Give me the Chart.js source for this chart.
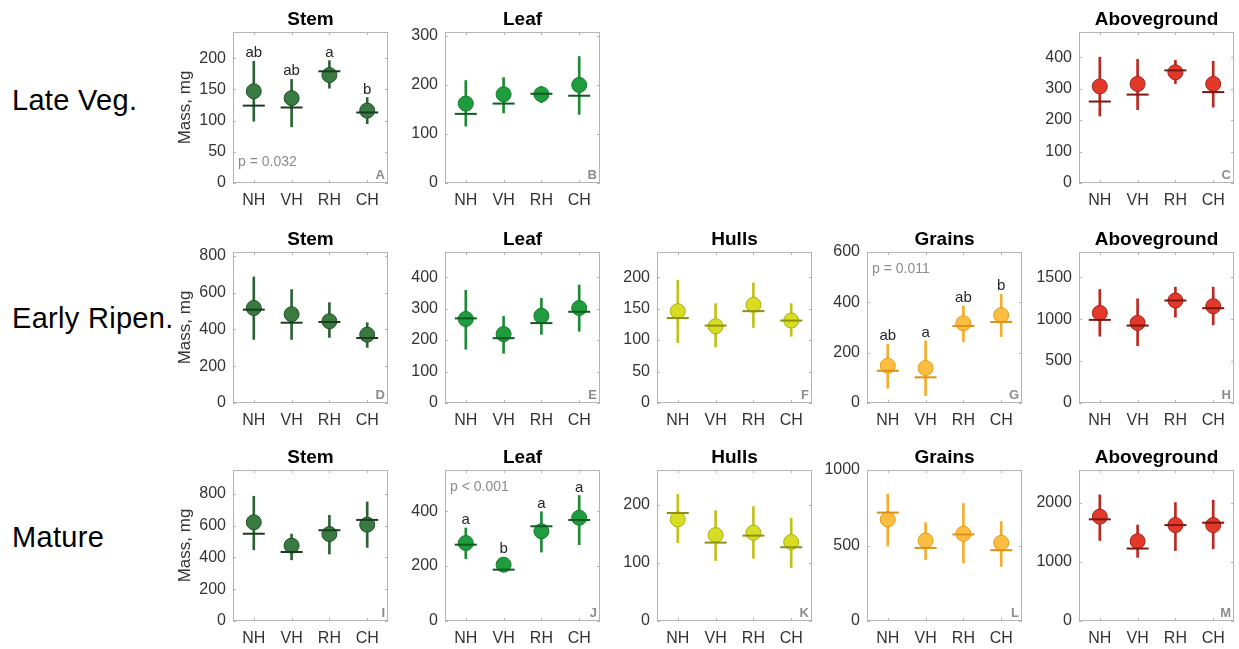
<!DOCTYPE html>
<html>
<head>
<meta charset="utf-8">
<script src="https://cdn.jsdelivr.net/npm/chart.js@4.4.1/dist/chart.umd.min.js"></script>
<style>
    html, body { margin: 0; padding: 0; background: #fff; }
    #fig { position: relative; width: 1239px; height: 649px; overflow: hidden; font-family: "Liberation Sans", Arial, sans-serif; }
    .row-label { position: absolute; left: 12px; font-size: 29px; color: #000; transform: translateY(-50%); white-space: nowrap; letter-spacing: 0.3px; }
    .panel { position: absolute; }
</style>
</head>
<body>
<div id="fig">
    <div class="row-label" style="top:100px">Late Veg.</div>
    <div class="row-label" style="top:318px">Early Ripen.</div>
    <div class="row-label" style="top:537px">Mature</div>
</div>
<script>
/* ==========================================================================
   DATA (mass, mg) - mean, median, whisker low / high per harvest group
   ========================================================================== */
const groups = ['NH', 'VH', 'RH', 'CH'];

// Late Veg.
const lvStemMean = [147, 136, 173, 116];
const lvStemMedian = [124, 121, 179, 113];
const lvStemLow = [99, 90, 152, 95];
const lvStemHigh = [195, 166, 196, 137];
const lvStemTicks = [0, 50, 100, 150, 200];
const lvStemLetters = ['ab', 'ab', 'a', 'b'];

const lvLeafMean = [162, 181, 181, 200];
const lvLeafMedian = [141, 162, 182, 178];
const lvLeafLow = [116, 143, 164, 140];
const lvLeafHigh = [209, 215, 197, 258];
const lvLeafTicks = [0, 100, 200, 300];

const lvAboveMean = [307, 315, 352, 315];
const lvAboveMedian = [259, 281, 358, 289];
const lvAboveLow = [213, 233, 316, 241];
const lvAboveHigh = [400, 393, 390, 387];
const lvAboveTicks = [0, 100, 200, 300, 400];

// Early Ripen.
const erStemMean = [516, 482, 444, 371];
const erStemMedian = [507, 436, 440, 353];
const erStemLow = [345, 345, 356, 302];
const erStemHigh = [685, 616, 545, 436];
const erStemTicks = [0, 200, 400, 600, 800];

const erLeafMean = [267, 219, 277, 302];
const erLeafMedian = [269, 206, 254, 290];
const erLeafLow = [171, 158, 218, 228];
const erLeafHigh = [358, 275, 333, 375];
const erLeafTicks = [0, 100, 200, 300, 400];

const erHullsMean = [146, 122, 156, 131];
const erHullsMedian = [135, 123, 146, 131];
const erHullsLow = [96, 89, 120, 106];
const erHullsHigh = [195, 158, 191, 158];
const erHullsTicks = [0, 50, 100, 150, 200];

const erGrainsMean = [148, 139, 317, 349];
const erGrainsMedian = [128, 102, 306, 322];
const erGrainsLow = [59, 29, 243, 264];
const erGrainsHigh = [234, 247, 386, 432];
const erGrainsTicks = [0, 200, 400, 600];
const erGrainsLetters = ['ab', 'a', 'ab', 'b'];

const erAboveMean = [1074, 955, 1222, 1154];
const erAboveMedian = [991, 923, 1222, 1130];
const erAboveLow = [796, 684, 1023, 931];
const erAboveHigh = [1353, 1242, 1381, 1381];
const erAboveTicks = [0, 500, 1000, 1500];

// Mature
const mStemMean = [621, 474, 547, 606];
const mStemMedian = [549, 434, 571, 636];
const mStemLow = [448, 385, 421, 463];
const mStemHigh = [785, 547, 665, 749];
const mStemTicks = [0, 200, 400, 600, 800];

const mLeafMean = [284, 205, 327, 376];
const mLeafMedian = [278, 187, 345, 368];
const mLeafLow = [227, 180, 251, 278];
const mLeafHigh = [339, 223, 398, 457];
const mLeafTicks = [0, 200, 400];
const mLeafLetters = ['a', 'b', 'a', 'a'];

const mHullsMean = [175, 148, 152, 136];
const mHullsMedian = [186, 135, 147, 127];
const mHullsLow = [135, 104, 108, 92];
const mHullsHigh = [218, 190, 197, 177];
const mHullsTicks = [0, 100, 200];

const mGrainsMean = [673, 533, 578, 518];
const mGrainsMedian = [718, 484, 573, 469];
const mGrainsLow = [496, 407, 384, 362];
const mGrainsHigh = [840, 651, 778, 658];
const mGrainsTicks = [0, 500, 1000];

const mAboveMean = [1762, 1348, 1620, 1620];
const mAboveMedian = [1717, 1224, 1620, 1660];
const mAboveLow = [1360, 1076, 1190, 1218];
const mAboveHigh = [2130, 1620, 2000, 2040];
const mAboveTicks = [0, 1000, 2000];

/* ==========================================================================
   STYLE
   ========================================================================== */
const palette = {
    stem:   { fill: '#397a41', edge: '#21502a', line: '#2d6234', median: '#1c3a20' },
    leaf:   { fill: '#1f9c3d', edge: '#127a2b', line: '#1e8a36', median: '#0e5a20' },
    hulls:  { fill: '#d6dd22', edge: '#a9af14', line: '#bdc31b', median: '#8c910f' },
    grains: { fill: '#fcbd40', edge: '#e39a1b', line: '#f3ad2c', median: '#dd9016' },
    above:  { fill: '#e2392b', edge: '#a3241a', line: '#b9291f', median: '#7c170f' }
};

const colLeft = [233, 445, 657, 867, 1079];
const rowTop = [32, 252, 470];
const boxW = 155;
const boxH = 151;
const fontFam = '"Liberation Sans", Arial, sans-serif';

const panels = [
    { row: 0, col: 0, title: 'Stem', tag: 'A', kind: 'stem', ymax: 242, ticks: lvStemTicks,
      mean: lvStemMean, median: lvStemMedian, low: lvStemLow, high: lvStemHigh, letters: lvStemLetters, p: 'p = 0.032', pPos: 'bottom' },
    { row: 0, col: 1, title: 'Leaf', tag: 'B', kind: 'leaf', ymax: 308, ticks: lvLeafTicks,
      mean: lvLeafMean, median: lvLeafMedian, low: lvLeafLow, high: lvLeafHigh },
    { row: 0, col: 4, title: 'Aboveground', tag: 'C', kind: 'above', ymax: 480, ticks: lvAboveTicks,
      mean: lvAboveMean, median: lvAboveMedian, low: lvAboveLow, high: lvAboveHigh },

    { row: 1, col: 0, title: 'Stem', tag: 'D', kind: 'stem', ymax: 820, ticks: erStemTicks,
      mean: erStemMean, median: erStemMedian, low: erStemLow, high: erStemHigh },
    { row: 1, col: 1, title: 'Leaf', tag: 'E', kind: 'leaf', ymax: 480, ticks: erLeafTicks,
      mean: erLeafMean, median: erLeafMedian, low: erLeafLow, high: erLeafHigh },
    { row: 1, col: 2, title: 'Hulls', tag: 'F', kind: 'hulls', ymax: 240, ticks: erHullsTicks,
      mean: erHullsMean, median: erHullsMedian, low: erHullsLow, high: erHullsHigh },
    { row: 1, col: 3, title: 'Grains', tag: 'G', kind: 'grains', ymax: 600, ticks: erGrainsTicks,
      mean: erGrainsMean, median: erGrainsMedian, low: erGrainsLow, high: erGrainsHigh, letters: erGrainsLetters, p: 'p = 0.011', pPos: 'top' },
    { row: 1, col: 4, title: 'Aboveground', tag: 'H', kind: 'above', ymax: 1800, ticks: erAboveTicks,
      mean: erAboveMean, median: erAboveMedian, low: erAboveLow, high: erAboveHigh },

    { row: 2, col: 0, title: 'Stem', tag: 'I', kind: 'stem', ymax: 950, ticks: mStemTicks,
      mean: mStemMean, median: mStemMedian, low: mStemLow, high: mStemHigh },
    { row: 2, col: 1, title: 'Leaf', tag: 'J', kind: 'leaf', ymax: 550, ticks: mLeafTicks,
      mean: mLeafMean, median: mLeafMedian, low: mLeafLow, high: mLeafHigh, letters: mLeafLetters, p: 'p < 0.001', pPos: 'top' },
    { row: 2, col: 2, title: 'Hulls', tag: 'K', kind: 'hulls', ymax: 260, ticks: mHullsTicks,
      mean: mHullsMean, median: mHullsMedian, low: mHullsLow, high: mHullsHigh },
    { row: 2, col: 3, title: 'Grains', tag: 'L', kind: 'grains', ymax: 1000, ticks: mGrainsTicks,
      mean: mGrainsMean, median: mGrainsMedian, low: mGrainsLow, high: mGrainsHigh },
    { row: 2, col: 4, title: 'Aboveground', tag: 'M', kind: 'above', ymax: 2550, ticks: mAboveTicks,
      mean: mAboveMean, median: mAboveMedian, low: mAboveLow, high: mAboveHigh }
];

const MEAN_R = 7.5;

// Box, inward ticks, title, panel tag, p-value and group letters
const framePlugin = {
    id: 'frame',
    afterDraw(chart) {
        const p = chart.options.plugins.frame.panel;
        const { ctx, chartArea: a, scales } = chart;
        ctx.save();
        ctx.strokeStyle = '#b4b4b4';
        ctx.lineWidth = 1;
        ctx.strokeRect(a.left + 0.5, a.top + 0.5, a.right - a.left - 1, a.bottom - a.top - 1);

        ctx.beginPath();
        scales.y.ticks.forEach(t => {
            const y = Math.round(scales.y.getPixelForValue(t.value)) + 0.5;
            ctx.moveTo(a.left, y); ctx.lineTo(a.left + 3, y);
            ctx.moveTo(a.right, y); ctx.lineTo(a.right - 3, y);
        });
        scales.x.ticks.forEach(t => {
            const x = Math.round(scales.x.getPixelForValue(t.value)) + 0.5;
            ctx.moveTo(x, a.bottom); ctx.lineTo(x, a.bottom - 3);
            ctx.moveTo(x, a.top); ctx.lineTo(x, a.top + 3);
        });
        ctx.stroke();

        // title
        ctx.fillStyle = '#000';
        ctx.font = 'bold 19px ' + fontFam;
        ctx.textAlign = 'center';
        ctx.textBaseline = 'middle';
        ctx.fillText(p.title, (a.left + a.right) / 2, a.top - 12);

        // panel tag
        ctx.fillStyle = '#8c8c8c';
        ctx.font = 'bold 13px ' + fontFam;
        ctx.textAlign = 'right';
        ctx.textBaseline = 'alphabetic';
        ctx.fillText(p.tag, a.right - 3, a.bottom - 4);

        // p-value
        if (p.p) {
            ctx.font = '14px ' + fontFam;
            ctx.textAlign = 'left';
            ctx.textBaseline = 'middle';
            ctx.fillText(p.p, a.left + 5, p.pPos === 'top' ? a.top + 17 : a.bottom - 21);
        }

        // significance letters
        if (p.letters) {
            ctx.fillStyle = '#262626';
            ctx.font = '15px ' + fontFam;
            ctx.textAlign = 'center';
            ctx.textBaseline = 'alphabetic';
            p.letters.forEach((s, i) => {
                const x = scales.x.getPixelForValue(i + 1);
                const yTop = Math.min(scales.y.getPixelForValue(p.high[i]),
                                      scales.y.getPixelForValue(p.mean[i]) - MEAN_R);
                ctx.fillText(s, x, yTop - 4);
            });
        }
        ctx.restore();
    }
};

function makePanel(p) {
    const c = palette[p.kind];
    const yw = p.col === 0 ? 62 : 50;
    const padTop = 30;
    const xh = 30;
    const padRight = 6;

    const wrap = document.createElement('div');
    wrap.className = 'panel';
    let w = yw + boxW + padRight;
    let h = padTop + boxH + xh;
    wrap.style.left = (colLeft[p.col] - yw) + 'px';
    wrap.style.top = (rowTop[p.row] - padTop) + 'px';
    wrap.style.width = w + 'px';
    wrap.style.height = h + 'px';
    const canvas = document.createElement('canvas');
    wrap.appendChild(canvas);
    document.getElementById('fig').appendChild(wrap);

    const xs = groups.map((g, i) => i + 1);

    const chart = new Chart(canvas, {
        type: 'scatter',
        data: {
            datasets: [
                {
                    type: 'bar',
                    data: xs.map((x, i) => ({ x: x, y: [p.low[i], p.high[i]] })),
                    backgroundColor: c.line,
                    barThickness: 2,
                    order: 3
                },
                {
                    type: 'scatter',
                    data: xs.map((x, i) => ({ x: x, y: p.mean[i] })),
                    pointStyle: 'circle',
                    pointRadius: MEAN_R,
                    pointBackgroundColor: c.fill,
                    pointBorderColor: c.edge,
                    pointBorderWidth: 1,
                    order: 2
                },
                {
                    type: 'scatter',
                    data: xs.map((x, i) => ({ x: x, y: p.median[i] })),
                    pointStyle: 'line',
                    pointRadius: 11,
                    pointBorderColor: c.median,
                    pointBorderWidth: 2,
                    order: 1
                }
            ]
        },
        options: {
            responsive: false,
            maintainAspectRatio: false,
            animation: false,
            events: [],
            layout: { padding: { top: padTop, right: padRight, left: 0, bottom: 0 } },
            plugins: {
                legend: { display: false },
                tooltip: { enabled: false },
                frame: { panel: p }
            },
            scales: {
                x: {
                    type: 'linear',
                    offset: false,
                    min: 0.45,
                    max: 4.55,
                    afterBuildTicks: s => { s.ticks = xs.map(v => ({ value: v })); },
                    afterFit: s => { s.height = xh; s.paddingLeft = 0; s.paddingRight = 0; },
                    grid: { display: false, drawTicks: false, offset: false },
                    border: { display: false },
                    ticks: {
                        callback: v => groups[v - 1],
                        color: '#333',
                        font: { family: fontFam, size: 16 },
                        padding: 8,
                        maxRotation: 0,
                        autoSkip: false
                    }
                },
                y: {
                    type: 'linear',
                    min: 0,
                    max: p.ymax,
                    afterBuildTicks: s => { s.ticks = p.ticks.map(v => ({ value: v })); },
                    afterFit: s => { s.width = yw; s.paddingTop = 0; s.paddingBottom = 0; },
                    grid: { display: false, drawTicks: false },
                    border: { display: false },
                    ticks: {
                        callback: v => String(v),
                        color: '#333',
                        font: { family: fontFam, size: 16 },
                        padding: 7
                    },
                    title: {
                        display: p.col === 0,
                        text: 'Mass, mg',
                        color: '#333',
                        font: { family: fontFam, size: 17 },
                        padding: { top: 4, bottom: 0 }
                    }
                }
            }
        },
        plugins: [framePlugin]
    });

    // nudge canvas so the plot box lands on the reference grid
    for (let k = 0; k < 3; k++) {
        const a = chart.chartArea;
        w += boxW - (a.right - a.left);
        h += boxH - (a.bottom - a.top);
        chart.resize(w, h);
        const b = chart.chartArea;
        wrap.style.left = (colLeft[p.col] - b.left) + 'px';
        wrap.style.top = (rowTop[p.row] - b.top) + 'px';
        wrap.style.width = w + 'px';
        wrap.style.height = h + 'px';
    }
}

panels.forEach(makePanel);
</script>
</body>
</html>
